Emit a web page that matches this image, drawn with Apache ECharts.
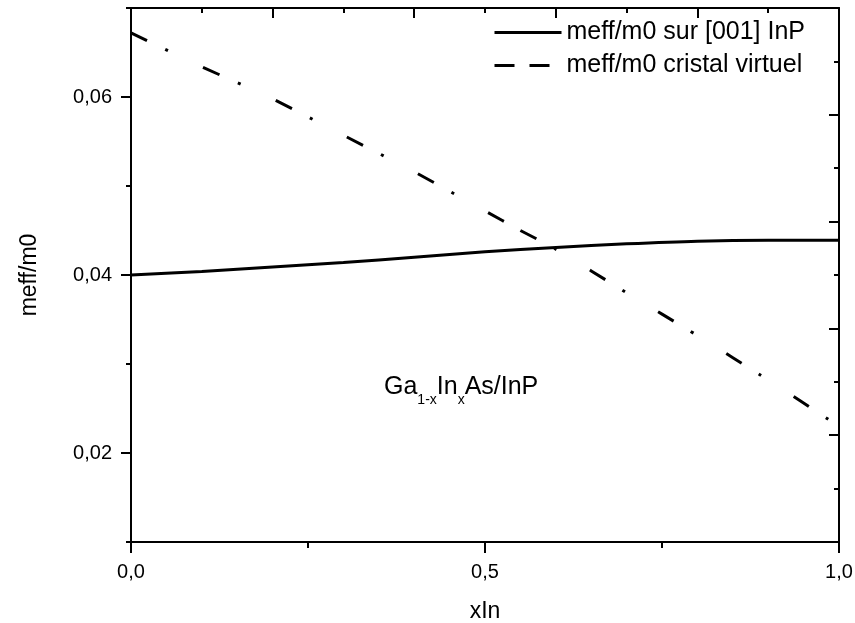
<!DOCTYPE html>
<html>
<head>
<meta charset="utf-8">
<script src="https://cdn.jsdelivr.net/npm/echarts@6/dist/echarts.min.js"></script>
<style>
html,body{margin:0;padding:0;background:#fff;}
#chart{width:855px;height:623px;}
</style>
</head>
<body>
<div id="chart"></div>
<script>
// ---- data ----
const xIn = [0, 0.1, 0.2, 0.3, 0.4, 0.5, 0.6, 0.7, 0.8, 0.9, 1.0];
const meffInP = [0.0400, 0.0404, 0.0409, 0.0414, 0.0420, 0.0426, 0.0431, 0.0435, 0.0438, 0.0439, 0.0439];

const xVirt = [0, 0.1, 0.2, 0.3, 0.4, 0.5, 0.55, 0.6, 0.7, 0.8, 0.9, 1.0];
const meffVirt = [0.0672, 0.0634, 0.0598, 0.0557, 0.0516, 0.0472, 0.0450, 0.0429, 0.0380, 0.0332, 0.0282, 0.0230];
const virtPatternRestartX = 0.55;

const xTickLabels = ['0,0', '0,5', '1,0'];
const yLabelValues = [0.02, 0.04, 0.06];
const yMinorValues = [0.01, 0.03, 0.05, 0.07];

const seriesNames = ['meff/m0 sur [001] InP', 'meff/m0 cristal virtuel'];
const xName = 'xIn';
const yName = 'meff/m0';

// ---- build ----
const solidData = xIn.map((x, i) => [x, meffInP[i]]);
const virtPart1 = [], virtPart2 = [];
xVirt.forEach((x, i) => {
  if (x <= virtPatternRestartX) virtPart1.push([x, meffVirt[i]]);
  if (x >= virtPatternRestartX) virtPart2.push([x, meffVirt[i]]);
});

const FONT = '"Liberation Sans", Arial, sans-serif';
const black = '#000';
const dashDot = [18, 20, 3, 39];

const chart = echarts.init(document.getElementById('chart'), null, {renderer: 'canvas'});
chart.setOption({
  backgroundColor: '#fff',
  animation: false,
  color: [black, black, black],
  textStyle: {fontFamily: FONT, color: black},
  grid: {left: 131, right: 16, top: 8, bottom: 81, containLabel: false, outerBoundsMode: 'none'},
  legend: {
    orient: 'vertical',
    left: 488,
    top: 15,
    itemWidth: 67,
    itemHeight: 14,
    itemGap: 8,
    selectedMode: false,
    textStyle: {fontFamily: FONT, fontSize: 25, color: black, lineHeight: 25},
    itemStyle: {opacity: 0},
    lineStyle: {width: 3, color: black},
    data: [
      {name: seriesNames[0], itemStyle: {opacity: 0}, lineStyle: {type: 'solid', width: 3}},
      {name: seriesNames[1], itemStyle: {opacity: 0}, lineStyle: {type: [20, 15], width: 3}}
    ]
  },
  xAxis: [
    {
      type: 'value', position: 'bottom', min: 0, max: 1, interval: 0.5,
      name: xName, nameLocation: 'middle', nameGap: 58,
      nameTextStyle: {fontFamily: FONT, fontSize: 23, color: black},
      axisLine: {show: true, onZero: false, lineStyle: {color: black, width: 2}},
      axisTick: {show: true, inside: false, length: 11, lineStyle: {color: black, width: 2}},
      minorTick: {show: true, splitNumber: 2, length: 6, lineStyle: {color: black, width: 2}},
      axisLabel: {
        margin: 20, fontSize: 20, color: black, fontFamily: FONT,
        formatter: v => xTickLabels[Math.round(v * 2)] || ''
      },
      splitLine: {show: false}
    },
    {
      type: 'value', position: 'top', min: 0, max: 1, interval: 0.2,
      axisLine: {show: true, onZero: false, lineStyle: {color: black, width: 2}},
      axisTick: {show: true, inside: true, length: 10, lineStyle: {color: black, width: 2}},
      minorTick: {show: true, splitNumber: 2, length: 5, lineStyle: {color: black, width: 2}},
      axisLabel: {show: false},
      splitLine: {show: false}
    }
  ],
  yAxis: [
    {
      type: 'value', position: 'left', min: 0.01, max: 0.07, interval: 0.01,
      name: yName, nameLocation: 'middle', nameGap: 90, nameRotate: 90,
      nameTextStyle: {fontFamily: FONT, fontSize: 23, color: black},
      axisLine: {show: true, onZero: false, lineStyle: {color: black, width: 2}},
      axisTick: {show: true, inside: false, length: 10, customValues: yLabelValues, lineStyle: {color: black, width: 2}},
      axisLabel: {
        margin: 19, fontSize: 20, color: black, fontFamily: FONT,
        customValues: yLabelValues,
        formatter: v => v.toFixed(2).replace('.', ',')
      },
      splitLine: {show: false}
    },
    {
      type: 'value', position: 'left', min: 0.01, max: 0.07, interval: 0.01,
      axisLine: {show: false},
      axisTick: {show: true, inside: false, length: 5, customValues: yMinorValues, lineStyle: {color: black, width: 2}},
      axisLabel: {show: false},
      splitLine: {show: false}
    },
    {
      type: 'value', position: 'right', min: 0, max: 10, interval: 2,
      axisLine: {show: true, onZero: false, lineStyle: {color: black, width: 2}},
      axisTick: {show: true, inside: true, length: 10, lineStyle: {color: black, width: 2}},
      minorTick: {show: true, splitNumber: 2, length: 5, lineStyle: {color: black, width: 2}},
      axisLabel: {show: false},
      splitLine: {show: false}
    }
  ],
  series: [
    {
      name: seriesNames[0], type: 'line', xAxisIndex: 0, yAxisIndex: 0,
      data: solidData, smooth: 0.3, symbol: 'none',
      itemStyle: {color: black},
      lineStyle: {color: black, width: 3, type: 'solid'}
    },
    {
      name: seriesNames[1], type: 'line', xAxisIndex: 0, yAxisIndex: 0,
      data: virtPart1, smooth: 0.2, symbol: 'none',
      itemStyle: {color: black},
      lineStyle: {color: black, width: 3, type: dashDot, cap: 'butt'}
    },
    {
      name: seriesNames[1], type: 'line', xAxisIndex: 0, yAxisIndex: 0,
      data: virtPart2, smooth: 0.2, symbol: 'none',
      itemStyle: {color: black},
      lineStyle: {color: black, width: 3, type: dashDot, cap: 'butt'}
    }
  ],
  graphic: [
    {
      type: 'text', left: 384, top: 375, silent: true,
      style: {
        text: '{m|Ga}{s|1-x}{m|In}{s|x}{m|As/InP}',
        fill: black,
        rich: {
          m: {fontFamily: FONT, fontSize: 25, lineHeight: 25, verticalAlign: 'top', fill: black},
          s: {fontFamily: FONT, fontSize: 14, lineHeight: 14, verticalAlign: 'top', padding: [18, 0, 0, 0], fill: black}
        }
      }
    }
  ]
});
</script>
</body>
</html>
